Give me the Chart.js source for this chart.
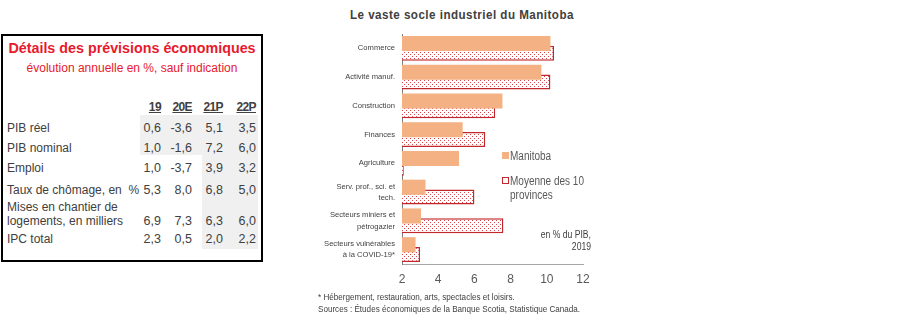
<!DOCTYPE html>
<html lang="fr">
<head>
<meta charset="utf-8">
<script src="https://cdn.jsdelivr.net/npm/chart.js@4/dist/chart.umd.min.js"></script>
<style>
  body { margin: 0; background: #fff; width: 899px; height: 321px; overflow: hidden; position: relative; font-family: "Liberation Sans", Arial, sans-serif; }
  .abs { position: absolute; white-space: nowrap; }
  #box { position: absolute; left: 1px; top: 34px; width: 258px; height: 224px; border: 2px solid #000; }
  .sq { transform: scaleX(0.8); transform-origin: left top; }
  .sqr { transform: scaleX(0.86); transform-origin: right top; }
  #chartWrap { position: absolute; left: 300px; top: 0; width: 300px; height: 300px; }
</style>
</head>
<body>
<div id="box"></div>
<div id="table"></div>

<div class="abs" style="left:350px;top:8px;font:bold 12.5px 'Liberation Sans',Arial,sans-serif;color:#404040;letter-spacing:0.5px;transform:scaleX(0.93);transform-origin:left top;">Le vaste socle industriel du Manitoba</div>
<div id="chartWrap"><canvas id="chart"></canvas></div>

<!-- legende -->
<div class="abs" style="left:502px;top:152px;width:7px;height:7px;background:#F4B183;"></div>
<div class="abs sq" style="left:510px;top:149px;font-size:12.5px;color:#595959;">Manitoba</div>
<div class="abs" style="left:502px;top:177px;width:5px;height:5px;border:1px solid #C0282D;background:#fff;"></div>
<div class="abs sq" style="left:510px;top:174px;font-size:12.5px;line-height:14px;color:#595959;">Moyenne des 10<br>provinces</div>
<div class="abs sqr" style="left:480px;width:111px;top:229px;text-align:right;font-size:10px;line-height:12px;color:#404040;">en % du PIB,<br>2019</div>

<div class="abs" style="left:318px;top:291px;font-size:9px;line-height:12px;color:#404040;transform:scaleX(0.9);transform-origin:left top;">* Hébergement, restauration, arts, spectacles et loisirs.<br>Sources : Études économiques de la Banque Scotia, Statistique Canada.</div>

<script>
// données du tableau
const tableTitle = 'Détails des prévisions économiques';
const tableSubtitle = 'évolution annuelle en %, sauf indication';
const tableCols = ['19', '20E', '21P', '22P'];
const tableRows = ['PIB réel', 'PIB nominal', 'Emploi', 'Taux de chômage, en&nbsp; %', 'Mises en chantier de\nlogements, en milliers', 'IPC total'];
const tableValues = [
  ['0,6', '-3,6', '5,1', '3,5'],
  ['1,0', '-1,6', '7,2', '6,0'],
  ['1,0', '-3,7', '3,9', '3,2'],
  ['5,3', '8,0', '6,8', '5,0'],
  ['6,9', '7,3', '6,3', '6,0'],
  ['2,3', '0,5', '2,0', '2,2']
];

// données du graphique
const categories = [
  'Commerce',
  'Activité manuf.',
  'Construction',
  'Finances',
  'Agriculture',
  ['Serv. prof., sci. et', 'tech.'],
  ['Secteurs miniers et', 'pétrogazier'],
  ['Secteurs vulnérables', 'à la COVID-19*']
];
const manitoba = [10.2, 9.7, 7.55, 5.35, 5.15, 3.3, 3.05, 2.75];
const moyenne10 = [10.4, 10.2, 7.15, 6.6, 2.1, 6.0, 7.6, 3.0];
const xTicks = [2, 4, 6, 8, 10, 12];

// tableau HTML
const tbl = document.getElementById('table');
function add(html, style) {
  const d = document.createElement('div');
  d.className = 'abs';
  d.style.cssText = style;
  d.innerHTML = html;
  tbl.appendChild(d);
}
add('', 'left:140px;top:115px;width:62px;height:40px;background:#f0f0f0;');
add('', 'left:202px;top:115px;width:56px;height:134px;background:#f0f0f0;');
add(tableTitle, 'left:3px;width:258px;top:40px;text-align:center;font:bold 14.3px "Liberation Sans",Arial,sans-serif;color:#E8192C;');
add(tableSubtitle, 'left:3px;width:258px;top:61px;text-align:center;font:12px "Liberation Sans",Arial,sans-serif;color:#E8192C;');
const colRight = [161, 192, 223, 256];
const rowY = [128, 148, 168, 190, 221, 239];
tableCols.forEach((c, i) => {
  add('<u>' + c + '</u>', `left:${colRight[i] - 40}px;width:40px;text-align:right;top:100px;font:bold 12px "Liberation Sans",Arial,sans-serif;color:#404040;letter-spacing:-0.6px;`);
});
tableRows.forEach((r, j) => {
  const lines = r.split('\n');
  const top = rowY[j] - 7 - (lines.length - 1) * 14;
  add(lines.join('<br>'), `left:7px;top:${top}px;font-size:12px;line-height:14px;color:#404040;`);
  tableValues[j].forEach((v, i) => {
    add(v, `left:${colRight[i] - 40}px;width:40px;text-align:right;top:${rowY[j] - 7}px;font-size:12.5px;line-height:14px;color:#404040;`);
  });
});

// motif pointillé pour la moyenne des provinces
function dotPattern() {
  const c = document.createElement('canvas');
  c.width = 4; c.height = 4;
  const g = c.getContext('2d');
  g.fillStyle = '#fff';
  g.fillRect(0, 0, 4, 4);
  g.fillStyle = '#D9434A';
  g.fillRect(0, 0, 1, 1);
  g.fillRect(2, 2, 1, 1);
  return g.createPattern(c, 'repeat');
}

const chartFont = '"Liberation Sans", Arial, sans-serif';

new Chart(document.getElementById('chart'), {
  type: 'bar',
  data: {
    labels: categories,
    datasets: [
      {
        label: 'Manitoba',
        data: manitoba,
        backgroundColor: '#F4B183',
        borderWidth: 0,
        base: 2
      },
      {
        label: 'Moyenne des 10 provinces',
        data: moyenne10,
        backgroundColor: dotPattern(),
        borderColor: '#C0282D',
        borderWidth: 1.5,
        base: 2
      }
    ]
  },
  options: {
    indexAxis: 'y',
    responsive: true,
    maintainAspectRatio: false,
    animation: false,
    categoryPercentage: 0.68,
    barPercentage: 1.55,
    layout: { padding: { top: 34, right: 17, left: 0, bottom: 0 } },
    plugins: {
      legend: { display: false },
      tooltip: { enabled: false }
    },
    scales: {
      x: {
        min: 2,
        max: 12,
        afterBuildTicks: (scale) => { scale.ticks = xTicks.map(v => ({ value: v })); },
        afterFit: (scale) => { scale.height = 36; },
        grid: { display: false, drawTicks: false },
        border: { display: true, color: '#A6A6A6', width: 1 },
        ticks: { padding: 8, color: '#595959', font: { family: chartFont, size: 12 } }
      },
      y: {
        afterFit: (scale) => { scale.width = 102; },
        grid: { display: false, drawTicks: false },
        border: { display: true, color: '#7F7F7F', width: 1 },
        ticks: {
          padding: 7,
          color: '#404040',
          autoSkip: false,
          font: { family: chartFont, size: 7.6, lineHeight: 1.5 }
        }
      }
    }
  }
});
</script>
</body>
</html>
